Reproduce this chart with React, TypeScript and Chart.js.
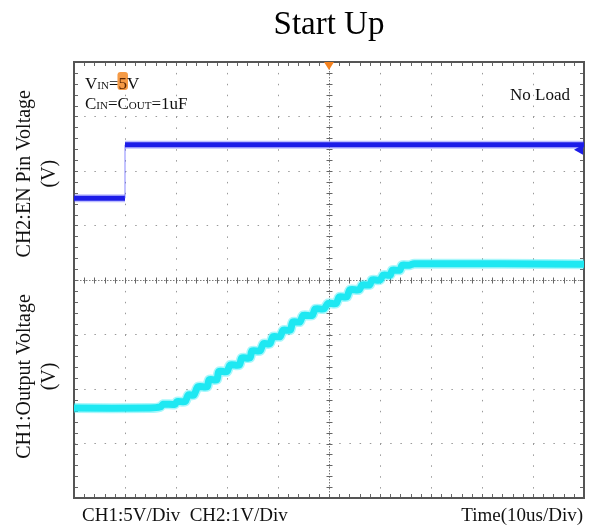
import React, { useEffect, useRef } from "react";
import { Chart, registerables } from "chart.js";

Chart.register(...registerables);

// Oscilloscope screen: 10 horizontal divisions, 8 vertical divisions
const X_DIVS = [0, 10];
const Y_DIVS = [0, 8];

// CH2 (EN pin) trace, in divisions
const CH2_X = [0, 1.0, 1.0, 10];
const CH2_Y = [5.5, 5.5, 6.48, 6.48];

// CH1 (output voltage) trace, in divisions (staircase soft-start)
const CH1_X = [
  0, 1.49, 1.69, 1.75, 1.98, 2.02, 2.18, 2.24, 2.35, 2.43, 2.61, 2.65, 2.8, 2.84, 3.0, 3.06, 3.24,
  3.29, 3.45, 3.49, 3.65, 3.71, 3.84, 3.9, 4.04, 4.1, 4.24, 4.29, 4.43, 4.49, 4.67, 4.73, 4.9,
  4.98, 5.14, 5.2, 5.35, 5.41, 5.59, 5.65, 5.8, 5.84, 6.0, 6.06, 6.2, 6.24, 6.39, 6.43, 6.57,
  6.67, 10,
];
const CH1_Y = [
  1.65, 1.65, 1.67, 1.72, 1.72, 1.77, 1.77, 1.89, 1.89, 2.04, 2.04, 2.17, 2.17, 2.32, 2.32, 2.44,
  2.44, 2.57, 2.57, 2.7, 2.7, 2.83, 2.83, 2.96, 2.96, 3.08, 3.08, 3.23, 3.23, 3.35, 3.35, 3.47,
  3.47, 3.57, 3.57, 3.69, 3.69, 3.82, 3.82, 3.91, 3.91, 4.0, 4.0, 4.09, 4.09, 4.18, 4.18, 4.27,
  4.27, 4.3, 4.29,
];

const TITLE = "Start Up";
const Y_LABEL_TOP = ["CH2:EN Pin Voltage", "(V)"];
const Y_LABEL_BOTTOM = ["CH1:Output Voltage", "(V)"];
const X_LABEL_LEFT = "CH1:5V/Div  CH2:1V/Div";
const X_LABEL_RIGHT = "Time(10us/Div)";
const NOTE_LOAD = "No Load";

const SERIF = "'Liberation Serif', 'Times New Roman', Times, serif";

const toPts = (xs: number[], ys: number[]) => xs.map((x, i) => ({ x, y: ys[i] }));

type Seg = { t: string; s: number; hl?: boolean };

function drawRich(ctx: CanvasRenderingContext2D, segs: Seg[], x0: number, baseline: number) {
  let x = x0;
  ctx.textBaseline = "alphabetic";
  ctx.textAlign = "left";
  for (const sg of segs) {
    ctx.font = `${sg.s}px ${SERIF}`;
    const w = ctx.measureText(sg.t).width;
    if (sg.hl) {
      ctx.fillStyle = "#f59a45";
      const r = 3;
      const bx = x - 1, by = baseline - 17, bw = w + 2, bh = 18;
      ctx.beginPath();
      ctx.moveTo(bx + r, by);
      ctx.arcTo(bx + bw, by, bx + bw, by + bh, r);
      ctx.arcTo(bx + bw, by + bh, bx, by + bh, r);
      ctx.arcTo(bx, by + bh, bx, by, r);
      ctx.arcTo(bx, by, bx + bw, by, r);
      ctx.fill();
    }
    ctx.fillStyle = sg.hl ? "#5a2400" : "#111";
    ctx.fillText(sg.t, x, baseline);
    x += w;
  }
}

const decor = {
  id: "scopeDecor",
  beforeDatasetsDraw(chart: any) {
    const { ctx, chartArea: a, scales } = chart;
    const xs = scales.x, ys = scales.y;
    ctx.save();
    const cx = Math.round(xs.getPixelForValue((X_DIVS[0] + X_DIVS[1]) / 2)) + 0.5;
    const cy = Math.round(ys.getPixelForValue((Y_DIVS[0] + Y_DIVS[1]) / 2)) + 0.5;
    ctx.strokeStyle = "#7a7a7a";
    ctx.lineWidth = 1;
    ctx.setLineDash([1.5, 1.5]);
    ctx.beginPath();
    ctx.moveTo(cx, a.top);
    ctx.lineTo(cx, a.bottom);
    ctx.moveTo(a.left, cy);
    ctx.lineTo(a.right, cy);
    ctx.stroke();
    ctx.setLineDash([]);
    ctx.strokeStyle = "#666";
    ctx.beginPath();
    for (let v = X_DIVS[0]; v <= X_DIVS[1] + 1e-9; v += 0.2) {
      const px = Math.round(xs.getPixelForValue(v)) + 0.5;
      ctx.moveTo(px, cy - 3);
      ctx.lineTo(px, cy + 3);
      ctx.moveTo(px, a.top);
      ctx.lineTo(px, a.top + 4);
      ctx.moveTo(px, a.bottom);
      ctx.lineTo(px, a.bottom - 4);
    }
    for (let v = Y_DIVS[0]; v <= Y_DIVS[1] + 1e-9; v += 0.2) {
      const py = Math.round(ys.getPixelForValue(v)) + 0.5;
      ctx.moveTo(cx - 3, py);
      ctx.lineTo(cx + 3, py);
      ctx.moveTo(a.left, py);
      ctx.lineTo(a.left + 4, py);
      ctx.moveTo(a.right, py);
      ctx.lineTo(a.right - 4, py);
    }
    ctx.stroke();
    ctx.strokeStyle = "#555";
    ctx.lineWidth = 2;
    ctx.strokeRect(a.left, a.top, a.right - a.left, a.bottom - a.top);
    ctx.restore();
  },
  afterDatasetsDraw(chart: any) {
    const { ctx, chartArea: a, scales } = chart;
    const xs = scales.x, ys = scales.y;
    ctx.save();
    // trigger position marker (orange)
    const tx = xs.getPixelForValue((X_DIVS[0] + X_DIVS[1]) / 2);
    ctx.fillStyle = "#f5821f";
    ctx.beginPath();
    ctx.moveTo(tx - 5, a.top);
    ctx.lineTo(tx + 5, a.top);
    ctx.lineTo(tx, a.top + 8);
    ctx.closePath();
    ctx.fill();
    // CH2 level marker (blue, right side)
    const my = ys.getPixelForValue(CH2_Y[CH2_Y.length - 1]) + 5;
    ctx.fillStyle = "#1c1ce8";
    ctx.beginPath();
    ctx.moveTo(a.right - 10, my);
    ctx.lineTo(a.right - 1, my - 5);
    ctx.lineTo(a.right - 1, my + 5);
    ctx.closePath();
    ctx.fill();
    ctx.restore();
  },
  afterDraw(chart: any) {
    const { ctx, chartArea: a, scales } = chart;
    const ys = scales.y;
    ctx.save();
    ctx.fillStyle = "#111";
    // Y labels (rotated)
    const drawRot = (lines: string[], yc: number) => {
      ctx.save();
      ctx.font = `20px ${SERIF}`;
      ctx.textAlign = "center";
      ctx.textBaseline = "middle";
      lines.forEach((ln, i) => {
        ctx.save();
        ctx.translate(25 + i * 25, yc);
        ctx.rotate(-Math.PI / 2);
        ctx.fillText(ln, 0, 0);
        ctx.restore();
      });
      ctx.restore();
    };
    drawRot(Y_LABEL_TOP, ys.getPixelForValue(5.95));
    drawRot(Y_LABEL_BOTTOM, ys.getPixelForValue(2.23));
    // bottom labels
    ctx.font = `19px ${SERIF}`;
    ctx.textBaseline = "alphabetic";
    ctx.textAlign = "left";
    ctx.fillText(X_LABEL_LEFT, a.left + 8, a.bottom + 23);
    ctx.textAlign = "right";
    ctx.fillText(X_LABEL_RIGHT, a.right - 1, a.bottom + 23);
    // annotations
    drawRich(
      ctx,
      [
        { t: "V", s: 17 },
        { t: "IN", s: 11 },
        { t: "=", s: 17 },
        { t: "5", s: 17, hl: true },
        { t: "V", s: 17 },
      ],
      a.left + 11,
      a.top + 27
    );
    drawRich(
      ctx,
      [
        { t: "C", s: 17 },
        { t: "IN", s: 11 },
        { t: "=C", s: 17 },
        { t: "OUT", s: 11 },
        { t: "=1uF", s: 17 },
      ],
      a.left + 11,
      a.top + 47
    );
    ctx.font = `17px ${SERIF}`;
    ctx.textAlign = "right";
    ctx.fillStyle = "#111";
    ctx.fillText(NOTE_LOAD, a.right - 14, a.top + 38);
    ctx.restore();
  },
};

export default function App() {
  const ref = useRef<HTMLCanvasElement | null>(null);
  useEffect(() => {
    document.body.style.margin = "0";
    if (!ref.current) return;
    const ch2 = toPts(CH2_X, CH2_Y);
    const ch1 = toPts(CH1_X, CH1_Y);
    const vertical = (c: any) => c.p0.parsed.x === c.p1.parsed.x;
    const chart = new Chart(ref.current, {
      type: "line",
      data: {
        datasets: [
          {
            data: ch2,
            borderColor: "#1c1ce8",
            borderWidth: 5,
            pointRadius: 0,
            order: 1,
            segment: {
              borderWidth: (c: any) => (vertical(c) ? 1.2 : undefined),
              borderColor: (c: any) => (vertical(c) ? "rgba(90,90,255,0.6)" : undefined),
            },
          },
          {
            data: ch2,
            borderColor: "rgba(70,70,255,0.35)",
            borderWidth: 8,
            pointRadius: 0,
            order: 2,
            segment: {
              borderColor: (c: any) => (vertical(c) ? "rgba(0,0,0,0)" : undefined),
            },
          },
          {
            data: ch1,
            borderColor: "#1ee8f2",
            borderWidth: 7,
            borderJoinStyle: "round",
            borderCapStyle: "round",
            tension: 0.25,
            pointRadius: 0,
            order: 1,
          },
          {
            data: ch1,
            borderColor: "rgba(40,235,245,0.4)",
            borderWidth: 10,
            borderJoinStyle: "round",
            tension: 0.25,
            pointRadius: 0,
            order: 2,
          },
        ] as any,
      },
      options: {
        responsive: false,
        animation: false,
        events: [],
        layout: { padding: { left: 74, right: 6, top: 0, bottom: 29 } },
        plugins: {
          legend: { display: false },
          tooltip: { enabled: false },
          title: {
            display: true,
            text: TITLE,
            color: "#000",
            font: { family: SERIF, size: 33, weight: "normal" as any },
            padding: { top: 6, bottom: 16.4 },
          },
        },
        scales: {
          x: {
            type: "linear",
            min: X_DIVS[0],
            max: X_DIVS[1],
            ticks: { display: false, stepSize: 1 },
            grid: { color: "#9a9a9a", lineWidth: 1, drawTicks: false },
            border: { display: false, dash: [1.5, 9.4] },
          },
          y: {
            type: "linear",
            min: Y_DIVS[0],
            max: Y_DIVS[1],
            ticks: { display: false, stepSize: 1 },
            grid: { color: "#9a9a9a", lineWidth: 1, drawTicks: false },
            border: { display: false, dash: [1.5, 8.7] },
          },
        },
      },
      plugins: [decor as any],
    });
    return () => chart.destroy();
  }, []);
  return (
    <div style={{ width: 590, height: 527 }}>
      <canvas ref={ref} width={590} height={527} style={{ display: "block" }} />
    </div>
  );
}
